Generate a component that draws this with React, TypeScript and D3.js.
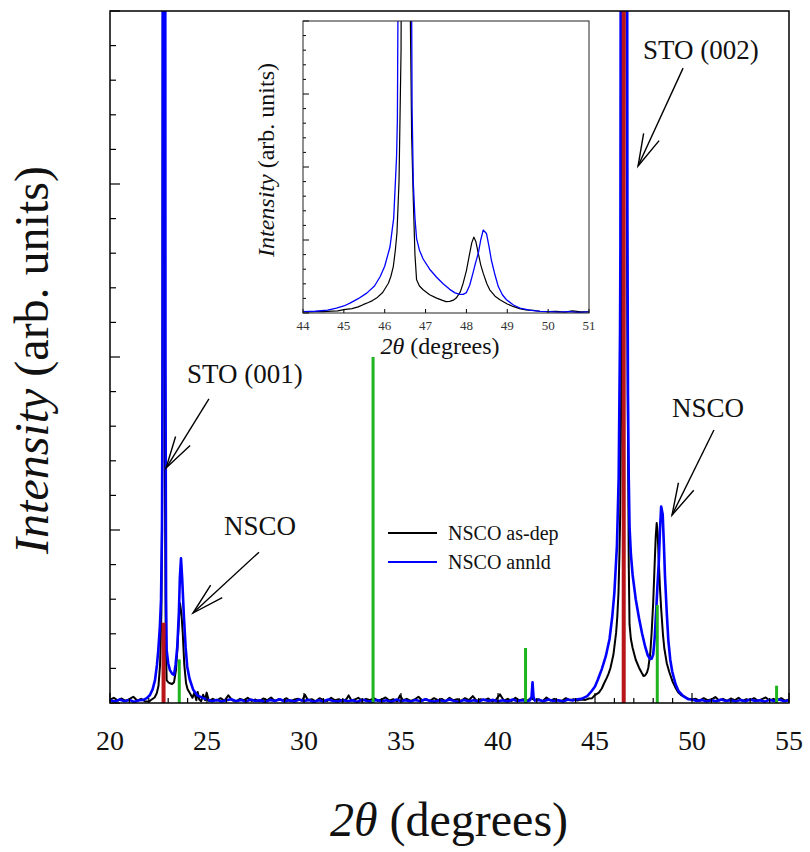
import React from "react";
import * as d3 from "d3";

// ---- data (2θ in degrees, intensity in arb. units) ----
const asDep: [number, number][] = [
  [20.0,0.1],[20.2,0.15],[20.4,0.07],[20.6,0.13],[20.8,0.06],[21.0,0.11],[21.2,0.18],[21.4,0.07],[21.6,0.12],[21.8,0.05],
  [22.0,0.04],[22.15,0.1],[22.3,0.16],[22.41,0.28],[22.5,0.5],[22.58,1.1],[22.65,2.6],[22.7,7],[22.75,40],[22.79,40],
  [22.83,7],[22.87,2.0],[22.92,0.66],[23.0,0.6],[23.09,0.57],[23.2,0.55],[23.3,0.6],[23.4,0.95],[23.47,1.53],[23.55,2.4],
  [23.61,2.88],[23.68,2.6],[23.75,2.02],[23.83,1.1],[23.92,0.57],[24.0,0.4],[24.12,0.28],[24.25,0.15],[24.35,0.3],[24.45,0.08],
  [24.52,0.32],[24.6,0.1],[24.7,0.05],[24.8,0.24],[24.9,0.08],[24.98,0.3],[25.1,0.06],[25.3,0.12],[25.5,0.07],[25.7,0.14],
  [25.9,0.06],[26.1,0.22],[26.3,0.08],[26.5,0.05],[26.7,0.12],[26.9,0.08],[27.1,0.15],[27.3,0.06],[27.5,0.1],[27.7,0.05],
  [27.9,0.13],[28.1,0.08],[28.3,0.16],[28.5,0.06],[28.7,0.11],[28.9,0.07],[29.1,0.14],[29.3,0.05],[29.5,0.1],[29.7,0.12],
  [29.9,0.06],[30.05,0.24],[30.2,0.08],[30.4,0.11],[30.6,0.05],[30.8,0.14],[31.0,0.08],[31.2,0.06],[31.4,0.15],[31.6,0.08],
  [31.8,0.11],[32.0,0.05],[32.2,0.12],[32.3,0.22],[32.45,0.07],[32.6,0.1],[32.8,0.15],[33.0,0.06],[33.2,0.12],[33.4,0.08],
  [33.6,0.14],[33.8,0.06],[34.0,0.1],[34.2,0.16],[34.4,0.07],[34.6,0.11],[34.8,0.05],[34.95,0.22],[35.1,0.08],[35.3,0.12],
  [35.5,0.06],[35.7,0.1],[35.9,0.18],[36.1,0.07],[36.3,0.11],[36.5,0.06],[36.7,0.14],[36.9,0.08],[37.1,0.12],[37.3,0.05],
  [37.5,0.15],[37.7,0.08],[37.9,0.11],[38.1,0.06],[38.3,0.14],[38.5,0.08],[38.7,0.2],[38.9,0.06],[39.1,0.11],[39.3,0.08],
  [39.5,0.13],[39.7,0.05],[39.9,0.1],[40.1,0.25],[40.3,0.07],[40.5,0.12],[40.7,0.06],[40.9,0.15],[41.1,0.08],[41.3,0.11],
  [41.5,0.06],[41.7,0.14],[41.9,0.08],[42.1,0.11],[42.3,0.05],[42.5,0.16],[42.7,0.07],[42.9,0.12],[43.1,0.08],[43.3,0.06],
  [43.5,0.14],[43.7,0.08],[43.9,0.11],[44.1,0.07],[44.3,0.1],[44.5,0.09],[44.7,0.13],[44.85,0.14],[45.0,0.23],[45.2,0.3],
  [45.35,0.42],[45.47,0.57],[45.6,0.72],[45.7,0.85],[45.8,1.02],[45.95,1.4],[46.09,2.04],[46.15,2.5],[46.21,3.18],[46.26,4.3],
  [46.3,5.5],[46.35,9],[46.4,18],[46.43,45],[46.58,45],[46.62,22],[46.66,12],[46.7,7.7],[46.74,4.0],[46.78,2.27],
  [46.85,1.85],[46.94,1.59],[47.1,1.25],[47.27,1.02],[47.4,0.88],[47.5,0.78],[47.59,0.8],[47.68,0.88],[47.75,1.02],[47.85,1.45],
  [47.92,2.04],[48.0,2.9],[48.08,4.09],[48.13,4.8],[48.18,5.2],[48.23,4.9],[48.29,4.09],[48.35,3.3],[48.41,2.73],[48.5,2.0],
  [48.57,1.59],[48.7,1.15],[48.82,0.91],[49.0,0.62],[49.14,0.45],[49.3,0.3],[49.45,0.22],[49.63,0.18],[49.8,0.12],[50.0,0.1],
  [50.2,0.12],[50.4,0.06],[50.6,0.14],[50.8,0.08],[51.0,0.1],[51.2,0.17],[51.4,0.07],[51.6,0.12],[51.8,0.06],[52.0,0.13],
  [52.2,0.08],[52.4,0.15],[52.6,0.06],[52.8,0.11],[53.0,0.08],[53.2,0.14],[53.4,0.06],[53.6,0.11],[53.8,0.16],[54.0,0.07],
  [54.2,0.12],[54.4,0.08],[54.6,0.14],[54.8,0.06],[55.0,0.1],
];

const annealed: [number, number][] = [
  [20.0,0.08],[20.25,0.04],[20.5,0.1],[20.75,0.05],[21.0,0.09],[21.25,0.03],[21.5,0.08],[21.72,0.09],[21.9,0.14],[22.06,0.23],
  [22.2,0.4],[22.32,0.66],[22.42,1.1],[22.49,1.53],[22.57,2.2],[22.63,2.98],[22.68,5],[22.71,10],[22.74,40],[22.83,40],
  [22.86,10],[22.89,3.0],[22.92,1.53],[23.0,1.15],[23.09,0.95],[23.2,0.85],[23.3,0.81],[23.38,1.1],[23.47,1.64],[23.55,2.6],
  [23.6,3.6],[23.66,4.18],[23.72,3.6],[23.81,2.5],[23.9,1.6],[23.98,1.05],[24.1,0.7],[24.29,0.38],[24.5,0.22],[24.81,0.14],
  [25.0,0.1],[25.25,0.05],[25.5,0.09],[25.75,0.04],[26.0,0.08],[26.25,0.11],[26.5,0.05],[26.75,0.09],[27.0,0.04],[27.25,0.1],
  [27.5,0.06],[27.75,0.08],[28.0,0.03],[28.25,0.09],[28.5,0.06],[28.75,0.11],[29.0,0.05],[29.25,0.08],[29.5,0.04],[29.75,0.1],
  [30.0,0.06],[30.25,0.09],[30.5,0.03],[30.75,0.08],[31.0,0.05],[31.25,0.1],[31.5,0.06],[31.75,0.04],[32.0,0.09],[32.25,0.05],
  [32.5,0.08],[32.75,0.03],[33.0,0.1],[33.25,0.06],[33.5,0.04],[33.75,0.09],[34.0,0.05],[34.25,0.08],[34.5,0.03],[34.75,0.1],
  [35.0,0.06],[35.25,0.08],[35.5,0.04],[35.75,0.09],[36.0,0.05],[36.25,0.11],[36.5,0.06],[36.75,0.04],[37.0,0.08],[37.25,0.05],
  [37.5,0.1],[37.75,0.06],[38.0,0.03],[38.25,0.09],[38.5,0.05],[38.75,0.08],[39.0,0.04],[39.25,0.1],[39.5,0.06],[39.75,0.09],
  [40.0,0.05],[40.25,0.08],[40.5,0.04],[40.75,0.1],[41.0,0.06],[41.25,0.08],[41.5,0.05],[41.65,0.08],[41.73,0.18],[41.78,0.6],
  [41.83,0.18],[41.9,0.07],[42.1,0.09],[42.35,0.05],[42.6,0.1],[42.85,0.06],[43.1,0.08],[43.35,0.04],[43.6,0.1],[43.85,0.07],
  [44.0,0.1],[44.3,0.12],[44.6,0.2],[44.82,0.34],[45.0,0.48],[45.15,0.68],[45.35,0.98],[45.56,1.36],[45.75,1.85],[45.89,2.5],
  [46.0,3.2],[46.13,4.54],[46.22,6.5],[46.29,10.7],[46.31,13.2],[46.37,45],[46.62,45],[46.67,14],[46.7,8.9],[46.74,6.5],
  [46.78,5.1],[46.85,4.3],[46.94,3.7],[47.1,3.0],[47.27,2.45],[47.43,2.0],[47.59,1.62],[47.72,1.38],[47.84,1.27],[47.92,1.28],
  [48.0,1.4],[48.08,1.9],[48.16,2.73],[48.22,3.4],[48.29,4.09],[48.35,5.0],[48.41,5.68],[48.49,5.45],[48.55,4.6],[48.61,3.63],
  [48.7,2.6],[48.78,1.81],[48.88,1.25],[48.98,0.91],[49.15,0.55],[49.31,0.34],[49.55,0.2],[49.8,0.11],[50.0,0.1],[50.25,0.06],
  [50.5,0.09],[50.75,0.04],[51.0,0.08],[51.25,0.05],[51.5,0.1],[51.75,0.06],[52.0,0.08],[52.25,0.04],[52.5,0.09],[52.75,0.05],
  [53.0,0.1],[53.25,0.06],[53.5,0.08],[53.75,0.04],[54.0,0.09],[54.25,0.06],[54.5,0.1],[54.75,0.05],[55.0,0.08],
];

// reference pattern lines
const stoRefs: [number, number][] = [[22.76, 2.32], [46.48, 25]];
const nscoRefs: [number, number][] = [[23.57, 1.26], [33.56, 10.0], [41.42, 1.59], [48.21, 2.83], [54.36, 0.5]];

const mainXTicks = [20, 25, 30, 35, 40, 45, 50, 55];
const insetXTicks = [44, 45, 46, 47, 48, 49, 50, 51];

// annotations: label position, arrow tail, arrow tip (data units)
const annotations = [
  { text: "STO (001)", label: [23.97, 9.25], tail: [25.10, 8.79], tip: [22.89, 6.79] },
  { text: "NSCO", label: [25.88, 4.86], tail: [27.68, 4.36], tip: [24.28, 2.60] },
  { text: "STO (002)", label: [47.47, 18.61], tail: [49.54, 18.35], tip: [47.22, 15.52] },
  { text: "NSCO", label: [48.97, 8.27], tail: [51.13, 7.89], tip: [48.97, 5.43] },
];

const legendItems = [
  { name: "NSCO as-dep", color: "#000000" },
  { name: "NSCO annld", color: "#0000ff" },
];

const FONT = "'Liberation Serif', 'Times New Roman', serif";

export default function App() {
  const x = d3.scaleLinear().domain([20, 55]).range([110, 789]);
  const y = d3.scaleLinear().domain([0, 20]).range([703, 11]);
  const xi = d3.scaleLinear().domain([44, 51]).range([303, 589]);
  const yi = d3.scaleLinear().domain([0, 20]).range([313, 21]);

  const lineMain = d3.line<[number, number]>().x((d) => x(d[0])).y((d) => y(d[1]));
  const lineIn = d3.line<[number, number]>().x((d) => xi(d[0])).y((d) => yi(d[1]));

  const minorX = d3.range(20, 56, 1);
  const minorY = d3.range(0, 21, 1);
  const insetMinorY = d3.range(0, 21, 1);

  const arrowHead = (tip: number[], tail: number[]) => {
    const tx = x(tip[0]), ty = y(tip[1]);
    const ax = x(tail[0]), ay = y(tail[1]);
    const ang = Math.atan2(ay - ty, ax - tx);
    const L = 33, spread = (15 * Math.PI) / 180;
    const p1 = [tx + L * Math.cos(ang - spread), ty + L * Math.sin(ang - spread)];
    const p2 = [tx + L * Math.cos(ang + spread), ty + L * Math.sin(ang + spread)];
    return `M${p1[0]},${p1[1]}L${tx},${ty}L${p2[0]},${p2[1]}`;
  };

  return (
    <svg width={810} height={852} style={{ position: "absolute", left: 0, top: 0 }} fontFamily={FONT}>
      <defs>
        <clipPath id="mainClip">
          <rect x={110} y={11} width={679} height={692} />
        </clipPath>
        <clipPath id="insetClip">
          <rect x={303} y={21} width={286} height={292} />
        </clipPath>
      </defs>
      <rect x={0} y={0} width={810} height={852} fill="#fff" />

      {/* main curves */}
      <g clipPath="url(#mainClip)">
        <path d={lineMain(asDep) || ""} fill="none" stroke="#000" strokeWidth={2} strokeLinejoin="round" />
        <path d={lineMain(annealed) || ""} fill="none" stroke="#0000ff" strokeWidth={2.6} strokeLinejoin="round" />
        {stoRefs.map((d, i) => (
          <rect key={"s" + i} x={x(d[0]) - 2} y={y(d[1])} width={4} height={y(0) - y(d[1])} fill="#b8141a" />
        ))}
        {nscoRefs.map((d, i) => (
          <rect key={"n" + i} x={x(d[0]) - 1.5} y={y(d[1])} width={3} height={y(0) - y(d[1])} fill="#1fb51f" />
        ))}
      </g>

      {/* main ticks */}
      {minorX.map((v) => (
        <line key={"tx" + v} x1={x(v)} x2={x(v)} y1={y(0)} y2={y(0) - (v % 5 === 0 ? 10 : 5)} stroke="#000" strokeWidth={1.2} />
      ))}
      {minorY.map((v) => (
        <line key={"ty" + v} x1={x(20)} x2={x(20) + (v % 5 === 0 ? 10 : 6)} y1={y(v)} y2={y(v)} stroke="#000" strokeWidth={1.2} />
      ))}
      <rect x={110} y={11} width={679} height={692} fill="none" stroke="#000" strokeWidth={1.5} />

      {mainXTicks.map((v) => (
        <text key={"lx" + v} x={x(v)} y={750} textAnchor="middle" fontSize={28} fill="#111">{v}</text>
      ))}

      <text x={449} y={836} textAnchor="middle" fontSize={48} fill="#111">
        <tspan fontStyle="italic">2θ</tspan>
        <tspan> (degrees)</tspan>
      </text>
      <text transform="translate(48,360) rotate(-90)" textAnchor="middle" fontSize={48} fill="#111">
        <tspan fontStyle="italic">Intensity</tspan>
        <tspan> (arb. units)</tspan>
      </text>

      {/* annotations */}
      {annotations.map((a, i) => (
        <g key={"a" + i}>
          <text x={x(a.label[0])} y={y(a.label[1])} fontSize={27} fill="#111">{a.text}</text>
          <line x1={x(a.tail[0])} y1={y(a.tail[1])} x2={x(a.tip[0])} y2={y(a.tip[1])} stroke="#000" strokeWidth={1.4} />
          <path d={arrowHead(a.tip, a.tail)} fill="none" stroke="#000" strokeWidth={1.4} />
        </g>
      ))}

      {/* legend */}
      {legendItems.map((l, i) => (
        <g key={"lg" + i}>
          <line x1={388} x2={437} y1={533 + i * 29} y2={533 + i * 29} stroke={l.color} strokeWidth={1.8} />
          <text x={448} y={539.5 + i * 29} fontSize={20} fill="#111">{l.name}</text>
        </g>
      ))}

      {/* inset */}
      <rect x={303} y={21} width={286} height={292} fill="#fff" />
      <g clipPath="url(#insetClip)">
        <path d={lineIn(asDep) || ""} fill="none" stroke="#000" strokeWidth={1.2} strokeLinejoin="round" />
        <path d={lineIn(annealed) || ""} fill="none" stroke="#0000ff" strokeWidth={1.3} strokeLinejoin="round" />
      </g>
      {insetXTicks.map((v) => (
        <line key={"itx" + v} x1={xi(v)} x2={xi(v)} y1={yi(0)} y2={yi(0) - 4} stroke="#000" strokeWidth={1} />
      ))}
      {insetMinorY.map((v) => (
        <line key={"ity" + v} x1={xi(44)} x2={xi(44) + (v % 5 === 0 ? 6 : 3)} y1={yi(v)} y2={yi(v)} stroke="#000" strokeWidth={1} />
      ))}
      <rect x={303} y={21} width={286} height={292} fill="none" stroke="#222" strokeWidth={1} />
      {insetXTicks.map((v) => (
        <text key={"ilx" + v} x={xi(v)} y={330} textAnchor="middle" fontSize={13} fill="#333">{v}</text>
      ))}
      <text x={440} y={354} textAnchor="middle" fontSize={24} fill="#111">
        <tspan fontStyle="italic">2θ</tspan>
        <tspan> (degrees)</tspan>
      </text>
      <text transform="translate(274,160) rotate(-90)" textAnchor="middle" fontSize={24} fill="#111">
        <tspan fontStyle="italic">Intensity</tspan>
        <tspan> (arb. units)</tspan>
      </text>
    </svg>
  );
}
